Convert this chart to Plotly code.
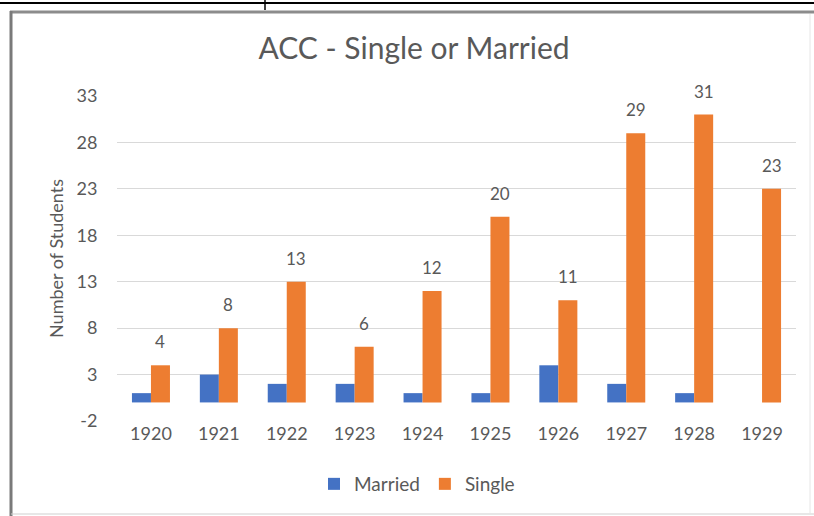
import plotly.graph_objects as go

years = ["1920", "1921", "1922", "1923", "1924", "1925", "1926", "1927", "1928", "1929"]
married = [1, 3, 2, 2, 1, 1, 4, 2, 1, 0]
single = [4, 8, 13, 6, 12, 20, 11, 29, 31, 23]
y_ticks = [-2, 3, 8, 13, 18, 23, 28, 33]
y_tick_labels = ["-2", "3", "8", "13", "18", "23", "28", "33"]

FONT = "Lato"
GREY = "#595959"

# plot area in pixels
L, R, T, B = 117, 796, 96, 421
W, H = 814, 516

def px(x):
    return (x - L) / (R - L)

def py(y):
    return (B - y) / (B - T)

fig = go.Figure()
fig.add_trace(go.Bar(x=years, y=married, name="Married", marker_color="#4472C4",
                     marker_line_width=0))
fig.add_trace(go.Bar(x=years, y=single, name="Single", marker_color="#ED7D31",
                     marker_line_width=0))

for i, v in enumerate(single):
    fig.add_annotation(x=i, y=v, text=str(v), showarrow=False, xshift=9.5, yshift=11,
                       yanchor="bottom", font=dict(family=FONT, size=17, color=GREY))

shapes = [
    dict(type="line", xref="paper", yref="paper", x0=px(0), x1=px(814), y0=py(3), y1=py(3),
         line=dict(color="#000000", width=2)),
    dict(type="line", xref="paper", yref="paper", x0=px(265), x1=px(265), y0=py(0), y1=py(10),
         line=dict(color="#000000", width=1.5)),
    dict(type="line", xref="paper", yref="paper", x0=px(10), x1=px(814), y0=py(12), y1=py(12),
         line=dict(color="#8c8c8c", width=3)),
    dict(type="line", xref="paper", yref="paper", x0=px(11), x1=px(11), y0=py(11), y1=py(516),
         line=dict(color="#7a7a7a", width=3)),
    dict(type="line", xref="paper", yref="paper", x0=px(11), x1=px(814), y0=py(514), y1=py(514),
         line=dict(color="#cfcfcf", width=1)),
    dict(type="line", xref="paper", yref="paper", x0=px(810), x1=px(810), y0=py(14), y1=py(514),
         line=dict(color="#e6e6e6", width=1)),
]

fig.update_layout(
    width=W, height=H,
    margin=dict(l=L, r=W - R, t=T, b=H - B, pad=0),
    paper_bgcolor="white", plot_bgcolor="white",
    font=dict(family=FONT, color=GREY),
    title=dict(text="ACC - Single or Married", xref="container", x=414 / W,
               xanchor="center", yref="container", y=1 - 48 / H, yanchor="middle",
               font=dict(family=FONT, size=30, color=GREY)),
    barmode="group", bargap=0.44, bargroupgap=0,
    showlegend=True,
    legend=dict(orientation="h", x=px(417), xanchor="center", y=py(484), yanchor="middle",
                font=dict(family=FONT, size=19, color=GREY), itemwidth=30,
                bgcolor="rgba(0,0,0,0)"),
    shapes=shapes,
)
fig.update_xaxes(type="category", range=[-0.5, 9.5], showgrid=False, showline=False,
                 zeroline=False, ticks="",
                 tickfont=dict(family=FONT, size=18, color=GREY))
fig.update_yaxes(range=[-2, 33], tickvals=y_ticks, ticktext=y_tick_labels,
                 showgrid=True, gridcolor="#d9d9d9",
                 gridwidth=1, zeroline=False, showline=False,
                 ticks="outside", ticklen=15, tickcolor="rgba(0,0,0,0)",
                 tickfont=dict(family=FONT, size=18, color=GREY),
                 title=dict(text="Number of Students", standoff=8,
                            font=dict(family=FONT, size=18, color=GREY)))

fig.write_html("out.html", config={"displayModeBar": False},
               post_script="document.body.style.margin='0px';")
